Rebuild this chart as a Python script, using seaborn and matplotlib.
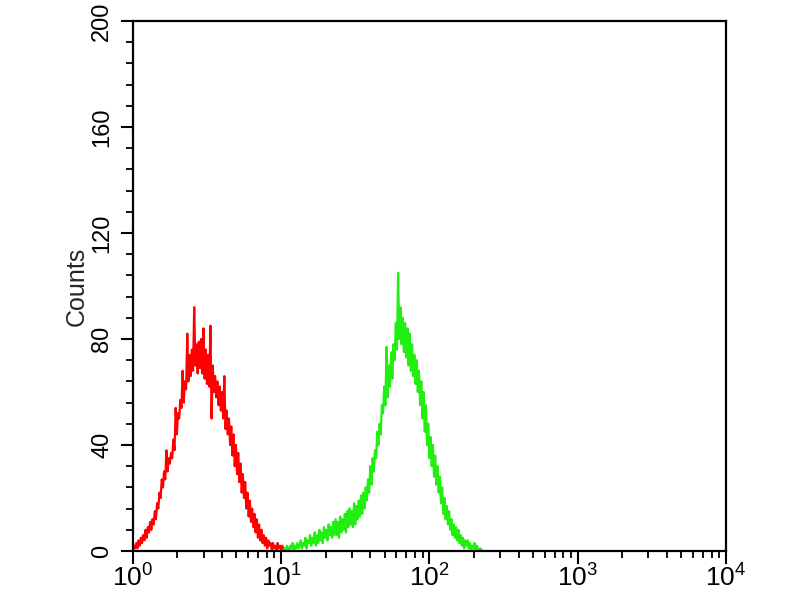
import numpy as np
import pandas as pd
import matplotlib
matplotlib.use("Agg")
import matplotlib.pyplot as plt
import seaborn as sns
from matplotlib.ticker import FixedLocator, LogLocator, NullFormatter

# ---- data: histogram counts per instrument channel (256 channels per decade, every 2nd channel) ----
channels_per_decade = 256
channel_step = 2

red_start_channel = 0
red_counts = [
    0, 2, 1, 3, 1, 4, 2, 5, 3, 6, 4, 8, 5, 9, 7, 11,
    8, 12, 10, 15, 12, 18, 16, 22, 20, 27, 24, 30, 27, 38, 30, 35,
    33, 37, 35, 42, 38, 54, 44, 52, 50, 57, 54, 68, 56, 64, 61, 82,
    64, 74, 66, 76, 68, 92, 70, 78, 67, 79, 69, 80, 67, 84, 65, 76,
    63, 74, 62, 85, 50, 70, 60, 66, 58, 64, 55, 62, 53, 60, 50, 66,
    46, 53, 44, 50, 40, 47, 36, 44, 32, 40, 29, 37, 26, 33, 22, 29,
    20, 26, 16, 22, 13, 19, 11, 16, 9, 14, 7, 12, 5, 10, 4, 8,
    3, 6, 2, 5, 1, 4, 2, 3, 0, 3, 1, 2, 0, 3, 1, 2,
    0, 2, 1, 0, 1, 0,
]

green_start_channel = 256
green_counts = [
    0, 0, 0, 1, 0, 2, 1, 0, 2, 1, 3, 0, 2, 1, 3, 1,
    2, 4, 1, 3, 2, 5, 1, 4, 3, 6, 2, 5, 3, 7, 2, 6,
    3, 8, 4, 7, 3, 9, 5, 8, 4, 10, 6, 9, 5, 11, 6, 12,
    6, 11, 5, 13, 7, 12, 8, 14, 7, 15, 9, 16, 10, 15, 9, 18,
    10, 17, 12, 19, 13, 21, 14, 22, 16, 24, 19, 27, 22, 32, 25, 35,
    30, 38, 35, 45, 40, 48, 44, 55, 52, 62, 55, 77, 58, 70, 62, 75,
    65, 78, 72, 86, 76, 105, 80, 92, 78, 88, 75, 86, 73, 84, 70, 82,
    68, 78, 66, 74, 63, 72, 60, 68, 55, 64, 50, 60, 45, 55, 40, 48,
    35, 43, 32, 40, 28, 36, 25, 32, 22, 28, 18, 24, 14, 20, 12, 17,
    10, 15, 8, 12, 6, 10, 5, 9, 4, 8, 3, 6, 2, 5, 1, 4,
    2, 4, 1, 3, 0, 2, 1, 3, 0, 2, 1, 0, 1, 0, 0, 0,
]

y_ticks = [0, 40, 80, 120, 160, 200]
x_ticks = [1, 10, 100, 1000, 10000]
x_tick_labels = [r"$10^{0}$", r"$10^{1}$", r"$10^{2}$", r"$10^{3}$", r"$10^{4}$"]
y_label = "Counts"


def to_frame(start, counts):
    ch = start + channel_step * np.arange(len(counts))
    return pd.DataFrame({"x": 10 ** (ch / channels_per_decade), "y": counts})


red_df = to_frame(red_start_channel, red_counts)
green_df = to_frame(green_start_channel, green_counts)

sns.set_style("white")
plt.rcParams["font.family"] = ["Liberation Sans", "DejaVu Sans"]
plt.rcParams["mathtext.fontset"] = "custom"
plt.rcParams["mathtext.rm"] = "Liberation Sans"
plt.rcParams["mathtext.it"] = "Liberation Sans"

fig = plt.figure(figsize=(8, 6), dpi=100)
ax = fig.add_axes([0.166, 0.0817, 0.7415, 0.8833])

sns.lineplot(data=red_df, x="x", y="y", ax=ax, color="#ff0000", lw=1.6,
             estimator=None, sort=False)
sns.lineplot(data=green_df, x="x", y="y", ax=ax, color="#22ee11", lw=1.6,
             estimator=None, sort=False)

ax.set_xscale("log")
ax.set_xlim(1, 10000)
ax.set_ylim(0, 200)

ax.xaxis.set_major_locator(FixedLocator(x_ticks))
ax.set_xticklabels(x_tick_labels)
ax.xaxis.set_minor_locator(LogLocator(base=10, subs=np.arange(2, 10), numticks=20))
ax.xaxis.set_minor_formatter(NullFormatter())

ax.set_yticks(y_ticks)
ax.set_yticklabels([str(v) for v in y_ticks], rotation=90, va="center")
ax.yaxis.set_minor_locator(FixedLocator(np.arange(0, 201, 8)))

ax.tick_params(axis="both", which="major", direction="out", length=9, width=1.5,
               color="black", labelcolor="black")
ax.tick_params(axis="y", which="major", labelsize=17, pad=5)
ax.tick_params(axis="x", which="major", labelsize=19, pad=1)
ax.tick_params(axis="both", which="minor", direction="out", length=5, width=1.3,
               color="black")
ax.tick_params(top=False, right=False, bottom=True, left=True, which="both")

for s in ax.spines.values():
    s.set_color("black")
    s.set_linewidth(1.6)
    s.set_visible(True)

ax.set_xlabel("")
ax.set_ylabel(y_label, fontsize=18, labelpad=2)

fig.savefig("out.png", dpi=100, facecolor="white")
